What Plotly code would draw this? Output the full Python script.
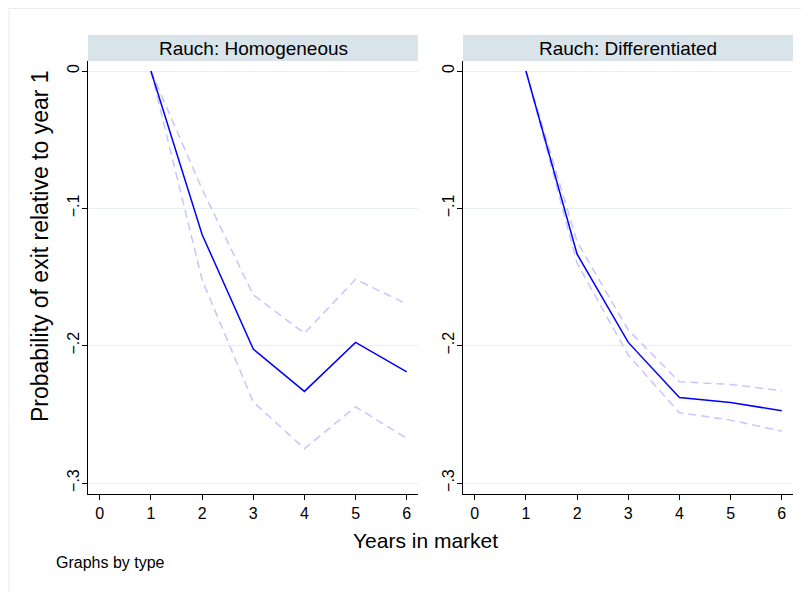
import plotly.graph_objects as go

years = [1, 2, 3, 4, 5, 6]

# Rauch: Homogeneous
homog_est = [0.0, -0.119, -0.2025, -0.2333, -0.1976, -0.219]
homog_hi = [0.0, -0.086, -0.163, -0.191, -0.1517, -0.1697]
homog_lo = [0.0, -0.152, -0.241, -0.275, -0.2445, -0.2675]

# Rauch: Differentiated
diff_est = [0.0, -0.1333, -0.1976, -0.2377, -0.2413, -0.2474]
diff_hi = [0.0, -0.1243, -0.1886, -0.2263, -0.2282, -0.2328]
diff_lo = [0.0, -0.140, -0.2068, -0.2488, -0.2542, -0.2622]

panel_titles = ["Rauch: Homogeneous", "Rauch: Differentiated"]
x_ticks = [0, 1, 2, 3, 4, 5, 6]
y_ticks = [0, -0.1, -0.2, -0.3]
y_ticktext = ["0", "\u2212.1", "\u2212.2", "\u2212.3"]

# page has an 8px body margin; figure coords = page coords - 8
OFF = 8
W, H = 801, 584
ML, MR, MT, MB = 80, 16, 53, 98
PW = W - ML - MR
PH = H - MT - MB

def px2x(px):
    return (px - OFF - ML) / PW

def px2y(py):
    return (H - MB - (py - OFF)) / PH

FONT = "Liberation Sans, Arial, Helvetica, sans-serif"
BLUE = "#0000ff"
LIGHT = "#c6c6ff"

fig = go.Figure()

panels = [
    (homog_est, homog_hi, homog_lo, "x", "y"),
    (diff_est, diff_hi, diff_lo, "x2", "y2"),
]
for est, hi, lo, xa, ya in panels:
    for series in (hi, lo):
        fig.add_trace(go.Scatter(x=years, y=series, mode="lines",
                                 line=dict(color=LIGHT, width=1.5, dash="8px,5px"),
                                 xaxis=xa, yaxis=ya, showlegend=False, hoverinfo="skip"))
    fig.add_trace(go.Scatter(x=years, y=est, mode="lines",
                             line=dict(color=BLUE, width=1.5),
                             xaxis=xa, yaxis=ya, showlegend=False))

gap = 45
d1 = [0, (PW - gap) / 2 / PW]
d2 = [1 - (PW - gap) / 2 / PW, 1]

xcommon = dict(range=[-0.23, 6.22], tickvals=x_ticks, showgrid=False, zeroline=False,
               showline=True, linecolor="black", linewidth=1.2, ticks="outside",
               ticklen=5, tickcolor="black", tickwidth=1,
               tickfont=dict(family=FONT, size=16, color="black"))
ycommon = dict(range=[-0.308, 0.0073], tickvals=y_ticks, ticktext=y_ticktext,
               tickangle=-90, showgrid=True, gridcolor="#e8f0f2", gridwidth=1,
               zeroline=False, showline=True, linecolor="black", linewidth=1.2,
               ticks="outside", ticklen=5, tickcolor="black", tickwidth=1,
               ticklabelstandoff=-3,
               tickfont=dict(family=FONT, size=16, color="black"))

fig.update_layout(
    width=W, height=H,
    margin=dict(l=ML, r=MR, t=MT, b=MB),
    paper_bgcolor="white", plot_bgcolor="white",
    xaxis=dict(domain=d1, anchor="y", **xcommon),
    xaxis2=dict(domain=d2, anchor="y2", **xcommon),
    yaxis=dict(domain=[0, 1], anchor="x", **ycommon),
    yaxis2=dict(domain=[0, 1], anchor="x2", **ycommon),
    showlegend=False,
)

# outer graph-region border
fig.add_shape(type="rect", xref="paper", yref="paper",
              x0=px2x(9), x1=px2x(840), y0=px2y(640), y1=px2y(8.5),
              line=dict(color="#e6edf0", width=1), fillcolor="rgba(0,0,0,0)", layer="below")

# strips
for dom, title in zip([d1, d2], panel_titles):
    fig.add_shape(type="rect", xref="paper", yref="paper",
                  x0=dom[0], x1=dom[1], y0=1, y1=px2y(35),
                  line=dict(width=0), fillcolor="#d9e4ea")
    fig.add_annotation(xref="paper", yref="paper", x=(dom[0] + dom[1]) / 2,
                       y=px2y(48), text=title, showarrow=False,
                       xanchor="center", yanchor="middle",
                       font=dict(family=FONT, size=19, color="black"))

fig.add_annotation(xref="paper", yref="paper", x=px2x(40), y=px2y(246),
                   text="Probability of exit relative to year 1", textangle=-90,
                   showarrow=False, xanchor="center", yanchor="middle",
                   font=dict(family=FONT, size=23, color="black"))
fig.add_annotation(xref="paper", yref="paper", x=px2x(425), y=px2y(540),
                   text="Years in market", showarrow=False,
                   xanchor="center", yanchor="middle",
                   font=dict(family=FONT, size=21, color="black"))
fig.add_annotation(xref="paper", yref="paper", x=px2x(54), y=px2y(562),
                   text="Graphs by type", showarrow=False,
                   xanchor="left", yanchor="middle",
                   font=dict(family=FONT, size=16, color="black"))

fig.write_html("out.html")
